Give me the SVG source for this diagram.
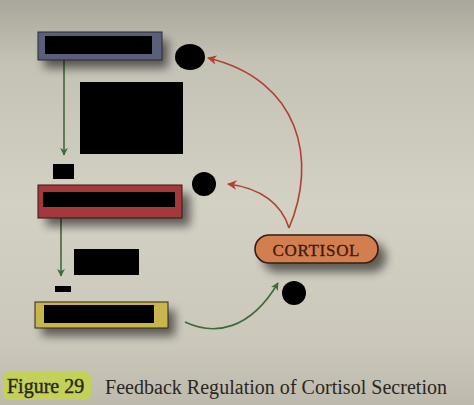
<svg xmlns="http://www.w3.org/2000/svg" width="474" height="405" viewBox="0 0 474 405">
<defs>
<linearGradient id="bg" x1="0" y1="0" x2="0" y2="1">
<stop offset="0" stop-color="#a9a69b"/>
<stop offset="0.15" stop-color="#c4c1b5"/>
<stop offset="0.5" stop-color="#d3d0c4"/>
<stop offset="0.85" stop-color="#cbc8bb"/>
<stop offset="1" stop-color="#bdbaad"/>
</linearGradient>
<filter id="sh" x="-30%" y="-50%" width="160%" height="250%">
<feGaussianBlur stdDeviation="5"/>
</filter>
<marker id="ag" viewBox="0 0 10 10" refX="9" refY="5" markerWidth="5" markerHeight="5" orient="auto-start-reverse">
<path d="M0,0 L10,5 L0,10 L3,5 Z" fill="#3f6a3a"/>
</marker>
<marker id="ar" viewBox="0 0 10 10" refX="9" refY="5" markerWidth="6" markerHeight="6" orient="auto-start-reverse">
<path d="M0,0 L10,5 L0,10 L3,5 Z" fill="#b3402f"/>
</marker>
<style>
.red{fill:#000}
.dot{fill:#000}
.grn{fill:none;stroke:#3f6a3a;stroke-width:1.6}
.rd{fill:none;stroke:#b3402f;stroke-width:1.6}
.shd{fill:#000;opacity:0.55;filter:url(#sh)}
.cap{font-family:"Liberation Serif","DejaVu Serif",serif;fill:#2a2622}
</style>
</defs>
<rect width="474" height="405" fill="url(#bg)"/>
<!-- caption highlight -->
<rect x="3" y="372" width="88" height="28" rx="6" fill="#c3d44c" opacity="0.9"/>

<g id="connectors">
<path class="grn" d="M64,60 L64,155" marker-end="url(#ag)"/>
<path class="grn" d="M61,218 L61,276" marker-end="url(#ag)"/>
<path class="grn" d="M185,322 C215,336 250,330 278,283" marker-end="url(#ag)"/>
<path class="rd" d="M289,228 C318,160 300,80 208,58" marker-end="url(#ar)"/>
<path class="rd" d="M289,228 C282,205 262,188 228,184" marker-end="url(#ar)"/>
</g>

<g id="box-top">
<rect class="shd" x="44" y="40" width="124" height="28"/>
<rect x="38" y="32" width="124" height="28" fill="#5c5f79" stroke="#2a2a35" stroke-width="1"/>
<rect class="red" x="45" y="36" width="107" height="18"/>
</g>
<g id="box-mid">
<rect class="shd" x="46" y="194" width="144" height="32"/>
<rect x="38" y="185" width="144" height="33" fill="#a3393a" stroke="#3a1414" stroke-width="1"/>
<rect class="red" x="43" y="192" width="132" height="15"/>
</g>
<g id="box-bottom">
<rect class="shd" x="42" y="310" width="133" height="26"/>
<rect x="35" y="302" width="133" height="26" fill="#c7b54d" stroke="#2e2a14" stroke-width="1"/>
<rect class="red" x="44" y="305" width="110" height="18"/>
</g>
<g id="cortisol">
<rect class="shd" x="263" y="243" width="123" height="29" rx="14"/>
<rect x="255" y="235" width="123" height="28" rx="14" fill="#d37e4f" stroke="#3a1c12" stroke-width="1.6"/>
<text x="316" y="255.5" text-anchor="middle" font-family="Liberation Serif, DejaVu Serif, serif" font-size="17" fill="#3a1a10" stroke="#3a1a10" stroke-width="0.3" textLength="87">CORTISOL</text>
</g>
<g id="redactions">
<rect class="red" x="80" y="82" width="103" height="72"/>
<rect class="red" x="53" y="164" width="21" height="15"/>
<rect class="red" x="74" y="249" width="65" height="26"/>
<rect class="red" x="55" y="286" width="16" height="6"/>
<ellipse class="dot" cx="190" cy="57" rx="15" ry="13"/>
<circle class="dot" cx="204" cy="184" r="12"/>
<circle class="dot" cx="294" cy="293" r="12"/>
</g>
<g id="caption">
<text class="cap" x="7" y="393" font-size="20" stroke="#2a2622" stroke-width="0.4">Figure 29</text>
<text class="cap" x="105" y="394" font-size="20" textLength="342">Feedback Regulation of Cortisol Secretion</text>
</g>
</svg>
